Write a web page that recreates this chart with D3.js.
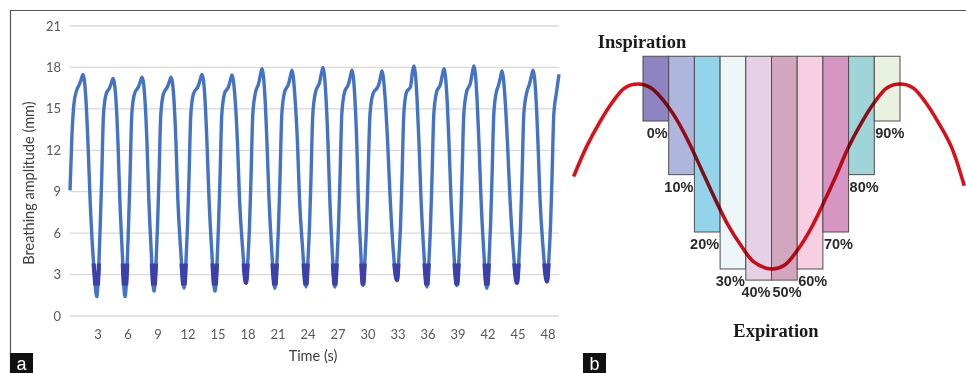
<!DOCTYPE html>
<html>
<head>
<meta charset="utf-8">
<script src="https://cdn.jsdelivr.net/npm/d3@7"></script>
<style>
  body { margin: 0; background: #fff; }
  svg { display: block; }
</style>
</head>
<body>
<div id="figure"></div>
<script>
//---------- panel a data: breathing trace [time (s), amplitude (mm)]
const breathing = [
  [0.2,9.1],[0.4,13.2],[0.6,15.4],[0.85,16.3],[1.15,16.8],[1.35,17.2],[1.5,17.5],[1.8,15.6],[2.0,12.5],[2.2,8.6],[2.45,5.0],[2.65,3.0],
  [2.87,1.4],[3.07,3.4],[3.22,6.5],[3.37,10],[3.55,14.6],[3.82,16.1],[4.15,16.5],[4.35,16.9],[4.5,17.2],[4.8,15.6],[5.0,12.5],[5.18,8.5],[5.4,5.0],
  [5.7,1.4],[5.9,3.4],[6.05,6.5],[6.2,10],[6.38,14.6],[6.65,16.1],[7.05,16.6],[7.25,17.0],[7.4,17.3],[7.7,15.6],[7.9,12.5],[8.08,8.5],[8.3,5.0],
  [8.6,1.8],[8.8,3.8],[8.95,6.5],[9.1,10],[9.28,14.6],[9.55,16.1],[9.95,16.6],[10.15,17.0],[10.3,17.3],[10.6,15.6],[10.8,12.5],[10.98,8.5],[11.25,5.0],
  [11.6,2.0],[11.8,4.0],[11.95,6.5],[12.1,10],[12.28,14.6],[12.55,16.1],[13.05,16.7],[13.25,17.2],[13.4,17.5],[13.7,15.7],[13.9,12.5],[14.1,8.5],[14.35,5.0],
  [14.7,1.8],[14.9,3.8],[15.05,6.5],[15.2,10],[15.38,14.6],[15.65,16.1],[16.05,16.6],[16.25,17.1],[16.4,17.45],[16.7,15.8],[16.95,12.5],[17.15,8.5],[17.45,5.0],
  [17.8,2.4],[18.0,4.2],[18.15,6.5],[18.3,10],[18.48,14.6],[18.75,16.2],[19.05,16.8],[19.25,17.5],[19.4,17.9],[19.7,15.8],[19.9,12.5],[20.1,8.5],[20.35,5.0],
  [20.7,2.0],[20.9,4.0],[21.05,6.5],[21.2,10],[21.38,14.6],[21.65,16.2],[22.05,16.8],[22.25,17.4],[22.4,17.8],[22.7,15.8],[22.95,12.5],[23.15,8.5],[23.45,5.0],
  [23.8,2.1],[24.0,4.1],[24.15,6.5],[24.3,10],[24.48,14.6],[24.75,16.2],[25.15,16.9],[25.35,17.6],[25.5,18.0],[25.8,15.8],[26.0,12.5],[26.18,8.5],[26.4,5.0],
  [26.7,2.1],[26.9,4.1],[27.05,6.5],[27.2,10],[27.38,14.6],[27.65,16.2],[28.05,16.8],[28.25,17.4],[28.4,17.8],[28.7,15.6],[28.88,12.5],[29.03,8.5],[29.25,5.0],
  [29.5,2.2],[29.7,4.2],[29.85,6.5],[30.0,10],[30.2,14.6],[30.5,16.1],[31.05,16.7],[31.25,17.3],[31.4,17.75],[31.7,15.9],[31.95,12.8],[32.2,8.8],[32.5,5.0],
  [32.9,2.6],[33.1,4.4],[33.25,6.5],[33.4,10],[33.58,14.6],[33.85,16.2],[34.25,16.6],[34.45,17.7],[34.6,18.1],[34.9,15.8],[35.1,12.5],[35.3,8.5],[35.55,5.0],
  [35.9,2.1],[36.1,4.1],[36.25,6.5],[36.4,10],[36.58,14.6],[36.85,16.2],[37.25,16.8],[37.45,17.5],[37.6,17.9],[37.9,15.8],[38.1,12.5],[38.3,8.5],[38.55,5.0],
  [38.9,2.2],[39.1,4.2],[39.25,6.5],[39.4,10],[39.58,14.6],[39.85,16.2],[40.25,16.9],[40.45,17.7],[40.6,18.1],[40.9,15.8],[41.1,12.5],[41.3,8.5],[41.55,5.0],
  [41.9,2.0],[42.1,4.0],[42.25,6.5],[42.4,10],[42.58,14.6],[42.8,16.1],[43.05,16.7],[43.25,17.3],[43.4,17.75],[43.7,15.8],[43.95,12.5],[44.2,8.5],[44.5,5.0],
  [44.9,2.4],[45.1,4.2],[45.25,6.5],[45.4,10],[45.58,14.6],[45.85,16.1],[46.15,16.8],[46.35,17.4],[46.5,17.8],[46.8,15.8],[47.0,12.5],[47.2,8.5],[47.5,5.0],
  [47.9,2.5],[48.1,4.3],[48.25,6.5],[48.4,10],[48.58,14.6],[48.85,16.2],[49.1,17.5]
];
// amplitude band that is drawn darker (gated samples)
const gateBand = [2.2, 3.8];
const yTicks = [0, 3, 6, 9, 12, 15, 18, 21];
const xTicks = [3, 6, 9, 12, 15, 18, 21, 24, 27, 30, 33, 36, 39, 42, 45, 48];

//---------- panel b data
const phases = ["0%", "10%", "20%", "30%", "40%", "50%", "60%", "70%", "80%", "90%"];
// bottom of each phase bin, in relative amplitude (1 = end inspiration)
const phaseBottom = [0.8, 0.51, 0.2, 0.0, -0.06, -0.06, 0.0, 0.2, 0.51, 0.8];
const phaseColors = ["#8e84c2", "#aeb6de", "#93d4ea", "#ecf6f8", "#e6d0e6", "#d3a6c0", "#f7cfe2", "#d795c4", "#9fd5d8", "#e9f2e0"];
const binTop = 1.15;
// breathing curve [phase %, relative amplitude]
const cycle = [
  [-27,0.5],[-22,0.66],[-17,0.79],[-12,0.9],[-7,0.98],[-2,1.0],[3,0.98],[8,0.91],[13,0.81],[18,0.68],
  [23,0.53],[28,0.38],[33,0.24],[38,0.13],[43,0.04],[50,0.0],[55,0.02],[60,0.1],[65,0.21],[70,0.35],
  [75,0.5],[80,0.66],[85,0.79],[90,0.9],[95,0.98],[100,1.0],[105,0.98],[110,0.9],[115,0.79],[120,0.66],[125,0.45]
];

//Width and height
var width = 966, height = 373;

var svg = d3.select("#figure")
  .append("svg")
  .attr("width", width)
  .attr("height", height);

//frame lines
svg.append("line").attr("x1", 10).attr("x2", width).attr("y1", 10.5).attr("y2", 10.5)
  .attr("stroke", "#555").attr("stroke-width", 1.2);
svg.append("line").attr("x1", 10.5).attr("x2", 10.5).attr("y1", 10).attr("y2", height)
  .attr("stroke", "#555").attr("stroke-width", 1.2);

//================ panel a
var x = d3.scaleLinear().domain([0, 49.1]).range([68, 559]);
var y = d3.scaleLinear().domain([0, 21]).range([316, 26]);
var plotLeft = 70, plotRight = 559;

var gA = svg.append("g").attr("class", "panel-a");

//gridlines
gA.selectAll(null)
  .data(yTicks)
  .enter()
  .append("line")
  .attr("x1", plotLeft).attr("x2", plotRight)
  .attr("y1", d => y(d)).attr("y2", d => y(d))
  .attr("stroke", "#d9d9d9")
  .attr("stroke-width", 1.3);

//y tick labels
gA.selectAll(null)
  .data(yTicks)
  .enter()
  .append("text")
  .attr("x", 61)
  .attr("y", d => y(d))
  .attr("dy", "0.35em")
  .attr("text-anchor", "end")
  .attr("font-family", "Lato, 'Open Sans', sans-serif")
  .attr("font-size", "13px")
  .attr("fill", "#595959")
  .text(d => d);

//x tick labels
gA.selectAll(null)
  .data(xTicks)
  .enter()
  .append("text")
  .attr("x", d => x(d))
  .attr("y", 339)
  .attr("text-anchor", "middle")
  .attr("font-family", "Lato, 'Open Sans', sans-serif")
  .attr("font-size", "13px")
  .attr("fill", "#595959")
  .text(d => d);

//axis titles
gA.append("text")
  .attr("x", 313).attr("y", 361)
  .attr("text-anchor", "middle")
  .attr("font-family", "Lato, 'Open Sans', sans-serif")
  .attr("font-size", "14.5px")
  .attr("fill", "#404040")
  .text("Time (s)");

gA.append("text")
  .attr("transform", "translate(34,183) rotate(-90)")
  .attr("text-anchor", "middle")
  .attr("font-family", "Lato, 'Open Sans', sans-serif")
  .attr("font-size", "14.5px")
  .attr("fill", "#404040")
  .text("Breathing amplitude (mm)");

//breathing line
var line = d3.line()
  .x(d => x(d[0]))
  .y(d => y(d[1]))
  .curve(d3.curveMonotoneX);

gA.append("path")
  .datum(breathing)
  .attr("d", line)
  .attr("fill", "none")
  .attr("stroke", "#4472c4")
  .attr("stroke-width", 3.4)
  .attr("stroke-linejoin", "round");

//darker part near end expiration
svg.append("clipPath")
  .attr("id", "gate-clip")
  .append("rect")
  .attr("x", plotLeft).attr("width", plotRight - plotLeft)
  .attr("y", y(gateBand[1]))
  .attr("height", y(gateBand[0]) - y(gateBand[1]));

gA.append("path")
  .datum(breathing)
  .attr("d", line)
  .attr("clip-path", "url(#gate-clip)")
  .attr("fill", "none")
  .attr("stroke", "#3b40ab")
  .attr("stroke-width", 4.2);

//================ panel b
var xb = d3.scaleBand().domain(phases).range([643, 900]);
var xp = d3.scaleLinear().domain([0, 100]).range([643, 900]);
var yb = d3.scaleLinear().domain([0, 1]).range([269, 84]);

var gB = svg.append("g").attr("class", "panel-b");

//phase bins
gB.selectAll(null)
  .data(phases)
  .enter()
  .append("rect")
  .attr("x", d => xb(d))
  .attr("y", yb(binTop))
  .attr("width", xb.bandwidth())
  .attr("height", (d, i) => yb(phaseBottom[i]) - yb(binTop))
  .attr("fill", (d, i) => phaseColors[i])
  .attr("stroke", "#4d4d4d")
  .attr("stroke-width", 1);

//breathing curve
gB.append("path")
  .datum(cycle)
  .attr("d", d3.line().x(d => xp(d[0])).y(d => yb(d[1])).curve(d3.curveCatmullRom))
  .attr("fill", "none")
  .attr("stroke", "#d8101c")
  .attr("stroke-width", 3.6)
  .style("mix-blend-mode", "multiply");

//phase labels: left half hangs off the right edge, right half off the left edge
gB.selectAll(null)
  .data(phases)
  .enter()
  .append("text")
  .attr("x", (d, i) => i < 5 ? xb(d) + xb.bandwidth() - 1 : xb(d) + 1)
  .attr("y", (d, i) => yb(phaseBottom[i]) + 17)
  .attr("text-anchor", (d, i) => i < 5 ? "end" : "start")
  .attr("font-family", "'Liberation Sans', Arial, sans-serif")
  .attr("font-weight", "bold")
  .attr("font-size", "14.5px")
  .attr("fill", "#2a2a2a")
  .text(d => d);

gB.append("text")
  .attr("x", 642).attr("y", 48)
  .attr("text-anchor", "middle")
  .attr("font-family", "'Liberation Serif', 'DejaVu Serif', serif")
  .attr("font-weight", "bold")
  .attr("font-size", "18.5px")
  .attr("fill", "#1a1a1a")
  .text("Inspiration");

gB.append("text")
  .attr("x", 776).attr("y", 337)
  .attr("text-anchor", "middle")
  .attr("font-family", "'Liberation Serif', 'DejaVu Serif', serif")
  .attr("font-weight", "bold")
  .attr("font-size", "18.5px")
  .attr("fill", "#1a1a1a")
  .text("Expiration");

//================ panel letters
var letters = [{t: "a", x: 10}, {t: "b", x: 583}];
var tags = svg.selectAll(null)
  .data(letters)
  .enter()
  .append("g")
  .attr("transform", d => "translate(" + d.x + ",353)");
tags.append("rect").attr("width", 23).attr("height", 20).attr("fill", "#111");
tags.append("text")
  .attr("x", 11.5).attr("y", 16.5)
  .attr("text-anchor", "middle")
  .attr("font-family", "'Liberation Sans', Arial, sans-serif")
  .attr("font-size", "18px")
  .attr("fill", "#fff")
  .text(d => d.t);
</script>
</body>
</html>
